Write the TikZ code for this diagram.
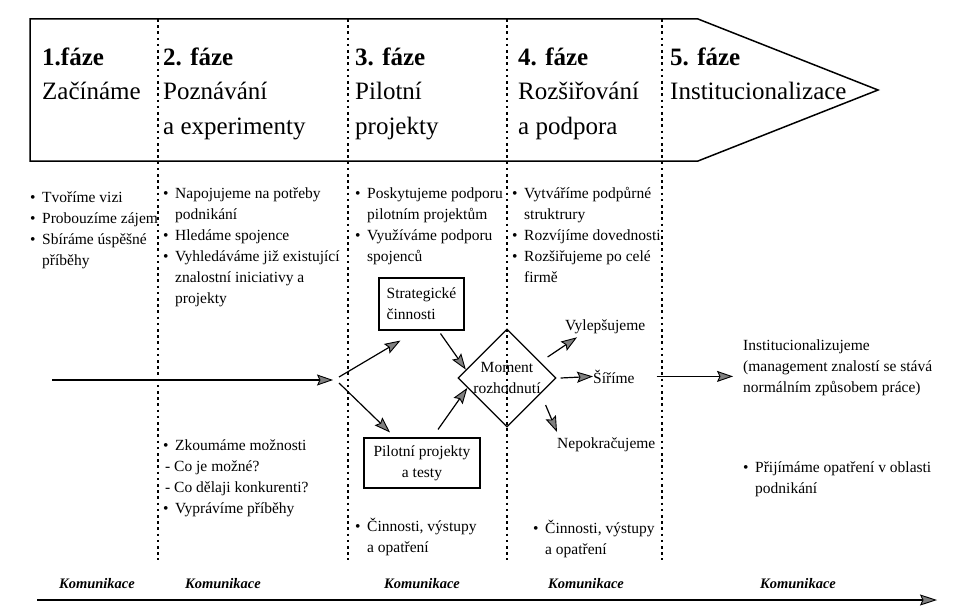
\documentclass[tikz,border=0pt]{standalone}
\usepackage{fontspec}
\setmainfont{Liberation Serif}
\usetikzlibrary{arrows.meta,shapes.geometric,calc}

\newcommand\hdfont{\fontsize{25}{35}\selectfont}
\newcommand\bodyfont{\fontsize{15.5}{21}\selectfont}
\newcommand\komfont{\fontsize{14.5}{17}\selectfont\bfseries\itshape}
\newcommand\bu{\makebox[12pt][l]{\textbullet}}
\newcommand\ind{\hspace*{12pt}}

% multi-line text nodes are placed by the baseline of their last line
\tikzset{
  frame/.style={line width=1.5pt, line join=miter},
  divider/.style={line width=1.5pt, dash pattern=on 2.6pt off 3.6pt},
  flow/.style={line width=1.2pt, -{Stealth[length=16pt,width=11pt,inset=2.5pt,fill=black!50,line width=0.9pt]}},
  timeline/.style={line width=1.6pt, -{Stealth[length=17pt,width=11pt,inset=2.5pt,fill=black!50,line width=0.9pt]}},
  phase/.style={inner sep=0pt, font=\hdfont, align=left, anchor=base west},
  txt/.style={inner sep=0pt, font=\bodyfont, align=left, anchor=base west},
  stepbox/.style={draw, line width=1.1pt, inner sep=0pt, font=\bodyfont},
  kom/.style={inner sep=0pt, font=\komfont, anchor=base},
}

\begin{document}
\begin{tikzpicture}[x=1pt, y=-1pt]
\useasboundingbox (0,0) rectangle (968,607);
\fill[white] (0,0) rectangle (968,607);

% phase dividers
\foreach \xx in {158,348,507,662}
  \draw[divider] (\xx,19) -- (\xx,560);

% arrow-shaped phase header
\draw[frame] (30,19) -- (698,19) -- (878,90) -- (698,161) -- (30,161) -- cycle;

\node[phase] (ph1) at (42,100) {\textbf{1.fáze}\\Začínáme};
\node[phase] (ph2) at (163,135) {\textbf{2. fáze}\\Poznávání\\a experimenty};
\node[phase] (ph3) at (355,135) {\textbf{3. fáze}\\Pilotní\\projekty};
\node[phase] (ph4) at (518,135) {\textbf{4. fáze}\\Rozšiřování\\a podpora};
\node[phase] (ph5) at (670,100) {\textbf{5. fáze}\\Institucionalizace};

% activities of each phase
\node[txt] (l1) at (30,265) {\bu Tvoříme vizi\\\bu Probouzíme zájem\\\bu Sbíráme úspěšné\\\ind příběhy};
\node[txt] (l2) at (163,303) {\bu Napojujeme na potřeby\\\ind podnikání\\\bu Hledáme spojence\\\bu Vyhledáváme již existující\\\ind znalostní iniciativy a\\\ind projekty};
\node[txt] (l3) at (355,261) {\bu Poskytujeme podporu\\\ind pilotním projektům\\\bu Využíváme podporu\\\ind spojenců};
\node[txt] (l4) at (512,282) {\bu Vytváříme podpůrné\\\ind struktrury\\\bu Rozvíjíme dovednosti\\\bu Rozšiřujeme po celé\\\ind firmě};

\node[txt] (m2) at (163,513) {\bu Zkoumáme možnosti\\\hspace*{2pt}- Co je možné?\\\hspace*{2pt}- Co dělaji konkurenti?\\\bu Vyprávíme příběhy};
\node[txt] (m3) at (355,552) {\bu Činnosti, výstupy\\\ind a opatření};
\node[txt] (m4) at (533,554) {\bu Činnosti, výstupy\\\ind a opatření};
\node[txt] (m5) at (743,493) {\bu Přijímáme opatření v oblasti\\\ind podnikání};

% decision flow
\coordinate (flowstart) at (52,380);
\coordinate (split) at (337,380);
\node[stepbox, minimum width=85pt, minimum height=52pt, align=left] (strat) at (421.5,304) {Strategické\\činnosti};
\node[stepbox, minimum width=116pt, minimum height=50pt, align=center] (pilot) at (422,463) {Pilotní projekty\\a testy};
\node[draw, line width=1.2pt, diamond, minimum width=98pt, minimum height=98pt, inner sep=0pt] (dia) at (507,378) {};
\node[inner sep=0pt, font=\bodyfont, align=center] (diatext) at (dia.center) {Moment\\rozhodnutí};

\node[txt] (vyl) at (565,330) {Vylepšujeme};
\node[txt] (sir) at (593,383) {Šíříme};
\node[txt] (nep) at (557,448) {Nepokračujeme};
\node[txt] (inst) at (743,392) {Institucionalizujeme\\(management znalostí se stává\\normálním způsobem práce)};

\draw[flow] (flowstart) -- ([xshift=-4pt]split);
\draw[flow] ([shift={(2,-3)}]split) -- ($(strat.south)+(-21,10)$);
\draw[flow] ([shift={(2,3)}]split) -- ($(pilot.north)+(-32,-5)$);
\draw[flow] ($(strat.south)+(19,3)$) -- ($(dia.west)!0.17!(dia.north)$);
\draw[flow] ($(pilot.north)+(16,-8)$) -- ($(dia.west)!0.2!(dia.south)$);
\draw[flow] ($(dia.east)+(-9,-21)$) -- ($(vyl.west)+(12,11)$);
\draw[flow] ([xshift=4pt]dia.east) -- (sir.west);
\draw[flow] ($(dia.east)+(-11,27)$) -- ($(nep.north west)+(0,-5)$);
\draw[flow] ([xshift=22pt]sir.east) -- ([xshift=-10pt]inst.west |- sir.east);

% communication runs through all phases
\coordinate (komstart) at (37,600);
\coordinate (komend) at (937,600);
\draw[timeline] (komstart) -- (komend);
\node[kom] (k1) at (97,588) {Komunikace};
\node[kom] (k2) at (223,588) {Komunikace};
\node[kom] (k3) at (422,588) {Komunikace};
\node[kom] (k4) at (586,588) {Komunikace};
\node[kom] (k5) at (798,588) {Komunikace};
\end{tikzpicture}
\end{document}
